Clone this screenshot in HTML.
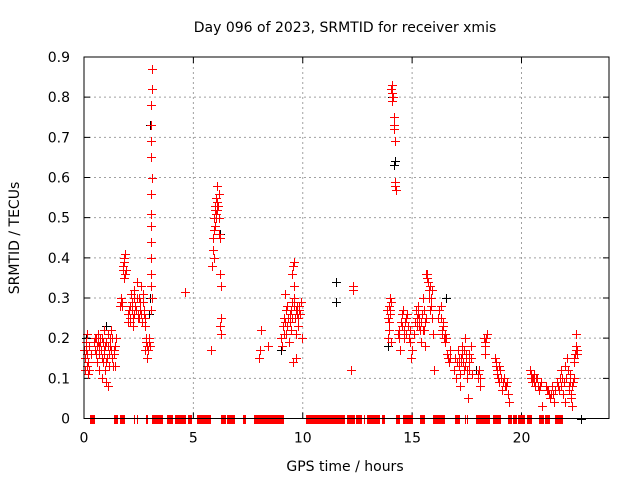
<!DOCTYPE html>
<html><head><meta charset="utf-8">
<style>
html,body{margin:0;padding:0;background:#fff;}
svg{display:block;font-family:"DejaVu Sans","Liberation Sans",sans-serif;}
</style></head>
<body>
<svg id="chart" width="640" height="480" viewBox="0 0 640 480">
<rect width="640" height="480" fill="#fff"/>
<text x="345" y="32" font-size="14" text-anchor="middle" fill="#000">Day 096 of 2023, SRMTID for receiver xmis</text>
<text x="345" y="471" font-size="14" text-anchor="middle" fill="#000">GPS time / hours</text>
<text x="19" y="238" font-size="14" text-anchor="middle" fill="#000" transform="rotate(-90 19 238)">SRMTID / TECUs</text>
<g id="grid"></g>
<g id="ticks"></g>
<g id="black-series"></g>
<g id="red-series"></g>
<rect x="84" y="57" width="525" height="361.5" fill="none" stroke="#000" stroke-width="1"/>
</svg>
<script>
const xTicks = [0, 5, 10, 15, 20];
const yTicks = [0, 0.1, 0.2, 0.3, 0.4, 0.5, 0.6, 0.7, 0.8, 0.9];
const yTickLabels = ["0","0.1","0.2","0.3","0.4","0.5","0.6","0.7","0.8","0.9"];
const redPoints = [
[0.05,0.12],[0.05,0.15],[0.08,0.19],[0.1,0.17],[0.12,0.13],[0.15,0.21],[0.18,0.11],[0.2,0.14],[0.25,0.12],[0.3,0.16],
[0.45,0.19],[0.5,0.17],[0.55,0.2],[0.6,0.14],[0.6,0.18],[0.65,0.21],[0.7,0.12],[0.7,0.16],[0.75,0.19],[0.8,0.1],[0.8,0.2],[0.85,0.14],[0.9,0.17],[0.9,0.22],[0.95,0.12],[1.0,0.09],[1.0,0.19],[1.05,0.15],[1.1,0.08],[1.1,0.21],[1.15,0.13],[1.2,0.18],[1.25,0.22],[1.3,0.2],[1.35,0.17],[1.4,0.13],[1.45,0.2],
[1.65,0.28],[1.7,0.3],[1.75,0.29],[1.8,0.38],[1.82,0.4],[1.85,0.35],[1.88,0.41],[1.9,0.37],
[2.0,0.24],[2.05,0.27],[2.1,0.25],[2.15,0.31],[2.2,0.29],[2.25,0.23],[2.3,0.32],[2.3,0.26],[2.35,0.28],[2.4,0.34],[2.45,0.25],[2.5,0.3],[2.55,0.27],[2.6,0.33],[2.65,0.24],[2.7,0.29],[2.75,0.26],[2.8,0.23],[2.8,0.17],[2.85,0.19],[2.9,0.15],[2.95,0.2],[3.0,0.18],
[3.1,0.87],[3.1,0.82],[3.08,0.78],[3.05,0.73],[3.08,0.69],[3.05,0.65],[3.1,0.6],[3.05,0.56],[3.08,0.51],[3.05,0.48],[3.08,0.44],[3.05,0.4],[3.08,0.36],[3.05,0.33],[3.1,0.3],[3.05,0.27],
[4.6,0.315],
[5.8,0.17],[5.85,0.38],[5.9,0.42],[5.9,0.45],[5.95,0.5],[6.0,0.53],[6.0,0.48],[6.05,0.55],[6.1,0.52],[6.1,0.58],[6.15,0.56],[6.15,0.46],[6.2,0.45],[6.2,0.36],[6.25,0.33],[6.25,0.25],[6.2,0.23],[6.25,0.21],[5.95,0.4],[6.05,0.51],
[8.0,0.15],[8.05,0.17],[8.1,0.22],[8.4,0.18],
[9.0,0.2],[9.05,0.18],[9.1,0.23],[9.15,0.25],[9.2,0.31],[9.25,0.21],[9.3,0.28],[9.35,0.19],[9.4,0.26],[9.45,0.22],[9.5,0.29],[9.5,0.36],[9.55,0.38],[9.6,0.39],[9.6,0.33],[9.65,0.25],[9.7,0.21],[9.7,0.15],[9.75,0.28],[9.8,0.23],[9.85,0.27],[9.9,0.29],[9.95,0.2],[9.55,0.14],
[12.2,0.12],[12.3,0.32],[12.3,0.33],
[13.9,0.2],[13.9,0.25],[13.95,0.28],[14.0,0.3],[14.05,0.82],[14.1,0.83],[14.1,0.79],[14.15,0.75],[14.15,0.72],[14.2,0.69],[14.2,0.58],[14.25,0.57],[13.95,0.22],[14.0,0.26],[14.05,0.19],
[14.35,0.21],[14.4,0.2],[14.45,0.17],[14.5,0.24],[14.6,0.27],[14.65,0.22],[14.7,0.25],[14.8,0.23],[14.9,0.19],[14.95,0.15],[15.0,0.17],
[15.1,0.21],[15.2,0.25],[15.25,0.28],[15.3,0.23],[15.4,0.19],[15.45,0.26],[15.5,0.3],[15.55,0.22],[15.6,0.18],[15.65,0.36],[15.7,0.36],[15.75,0.32],[15.8,0.27],[15.85,0.3],[15.9,0.25],[15.95,0.21],[16.0,0.12],
[16.2,0.25],[16.3,0.28],[16.35,0.22],[16.4,0.24],[16.45,0.2],[16.5,0.19],[16.6,0.16],[16.7,0.14],[16.75,0.15],
[16.9,0.12],[17.0,0.1],[17.1,0.17],[17.15,0.13],[17.2,0.08],[17.25,0.15],[17.3,0.18],[17.35,0.12],[17.4,0.2],[17.45,0.16],[17.5,0.1],[17.55,0.05],[17.6,0.14],[17.7,0.18],[17.75,0.11],
[18.0,0.1],[18.05,0.12],[18.1,0.08],[18.3,0.2],[18.35,0.18],[18.4,0.21],[18.35,0.16],
[18.8,0.15],[18.85,0.13],[18.9,0.11],[18.95,0.09],[19.0,0.12],[19.1,0.07],[19.2,0.1],[19.3,0.08],[19.4,0.06],[19.45,0.04],
[20.4,0.12],[20.45,0.1],[20.5,0.09],[20.55,0.11],[20.6,0.08],[20.7,0.1],[20.8,0.07],[20.9,0.09],[20.95,0.03],
[21.1,0.08],[21.2,0.07],[21.3,0.05],[21.35,0.06],[21.4,0.08],[21.5,0.04],[21.6,0.09],[21.7,0.07],[21.8,0.12],[21.85,0.1],[21.9,0.06],[22.0,0.13],[22.0,0.04],[22.1,0.15],[22.15,0.08],[22.2,0.11],[22.25,0.05],[22.3,0.03],[22.35,0.09],[22.4,0.14],[22.45,0.16],[22.5,0.18],[22.5,0.21],[22.55,0.17]
];
const redPointsDense = [
[0.02,0.17],[0.1,0.19],[0.15,0.16],[0.22,0.18],[0.5,0.2],[0.55,0.16],[0.62,0.19],[0.68,0.18],[0.72,0.2],[0.78,0.17],[0.82,0.15],[0.88,0.19],[0.92,0.16],[0.97,0.18],[1.02,0.14],[1.08,0.18],[1.12,0.16],[1.18,0.2],[1.22,0.17],[1.28,0.15],[1.32,0.13],[1.38,0.16],[1.42,0.18],
[1.68,0.29],[1.72,0.28],[1.78,0.37],[1.84,0.39],[1.86,0.36],
[2.02,0.26],[2.08,0.28],[2.12,0.24],[2.18,0.27],[2.22,0.25],[2.28,0.3],[2.32,0.28],[2.38,0.27],[2.42,0.3],[2.48,0.26],[2.52,0.25],[2.58,0.29],[2.62,0.26],[2.68,0.31],[2.72,0.27],[2.78,0.25],[2.82,0.2],[2.88,0.18],[2.92,0.17],[2.98,0.19],
[5.92,0.47],[5.98,0.52],[6.02,0.5],[6.08,0.54],[6.12,0.53],[6.18,0.5],
[9.12,0.21],[9.18,0.24],[9.22,0.27],[9.28,0.23],[9.32,0.25],[9.42,0.24],[9.48,0.27],[9.52,0.25],[9.58,0.3],[9.62,0.28],[9.68,0.27],[9.72,0.26],[9.78,0.25],[9.82,0.28],[9.88,0.26],
[13.85,0.27],[13.92,0.24],[13.98,0.27],[14.02,0.29],[14.08,0.81],[14.12,0.8],[14.18,0.73],[14.22,0.59],
[14.38,0.22],[14.42,0.2],[14.52,0.26],[14.55,0.23],[14.62,0.2],[14.68,0.24],[14.72,0.21],[14.78,0.26],[14.85,0.2],[14.92,0.22],
[15.12,0.24],[15.18,0.27],[15.22,0.23],[15.28,0.26],[15.32,0.25],[15.38,0.22],[15.42,0.24],[15.48,0.22],[15.52,0.27],[15.58,0.24],[15.62,0.25],[15.68,0.35],[15.72,0.34],[15.78,0.3],[15.82,0.33],[15.88,0.28],[15.92,0.32],
[16.25,0.27],[16.32,0.25],[16.38,0.21],[16.42,0.23],[16.48,0.21],[16.55,0.2],[16.65,0.15],[16.72,0.17],
[16.95,0.15],[17.05,0.14],[17.12,0.15],[17.18,0.11],[17.22,0.14],[17.28,0.16],[17.32,0.14],[17.38,0.17],[17.42,0.13],[17.48,0.15],[17.52,0.12],[17.58,0.16],[17.62,0.12],[17.68,0.15],
[18.02,0.11],[18.08,0.1],[18.32,0.19],[18.38,0.2],
[18.82,0.14],[18.88,0.12],[18.92,0.1],[18.98,0.13],[19.05,0.1],[19.15,0.09],[19.25,0.08],[19.35,0.09],
[20.42,0.11],[20.48,0.1],[20.52,0.1],[20.58,0.09],[20.65,0.1],[20.75,0.08],[20.85,0.08],
[21.15,0.07],[21.25,0.06],[21.45,0.06],[21.55,0.07],[21.65,0.08],[21.75,0.1],[21.82,0.08],[21.95,0.09],[22.05,0.1],[22.12,0.12],[22.18,0.07],[22.22,0.09],[22.28,0.06],[22.32,0.08],[22.38,0.1],[22.42,0.15],[22.48,0.17],[22.52,0.16]
];
// extents (in hours, incl. marker size) of runs of zero-valued samples
const redZeroRuns = [
[0.27,0.5],[1.37,1.55],[1.65,1.87],[2.29,2.29],[2.42,2.42],[2.83,2.83],[2.88,2.88],
[3.1,3.6],[3.8,4.07],[4.16,4.66],[4.75,4.94],[5.17,5.8],[6.26,6.5],[6.54,6.9],[7.27,7.4],
[7.77,9.14],[10.15,11.93],[12.0,12.4],[12.43,12.7],[12.8,12.8],[12.94,13.53],[13.6,13.76],
[14.26,14.45],[14.6,15.04],[15.35,15.6],[15.95,16.5],[16.96,17.2],[17.42,17.42],[17.5,17.5],[17.92,18.56],
[18.7,19.06],[19.38,19.57],[19.6,19.8],[19.84,20.16],[20.25,20.48],[20.8,21.03],[21.07,21.3],[21.53,21.9]
];
const blackPoints = [[3.0,0.73],[3.0,0.3],[2.95,0.26],[11.5,0.34],[11.5,0.29],[14.1,0.8],[14.2,0.64],[14.15,0.63],[6.2,0.46],[13.9,0.18],[16.55,0.3],[17.9,0.12],[0.1,0.2],[1.0,0.23],[9.0,0.17],[22.7,0]];

const X0 = 84, X1 = 609, Y0 = 418.5, Y1 = 57;
const xMax = 24, yMax = 0.9;
function xs(t){ return X0 + (X1 - X0) * t / xMax; }
function ys(v){ return Y0 - (Y0 - Y1) * v / yMax; }
const NS = "http://www.w3.org/2000/svg";
const grid = document.getElementById("grid");
const ticks = document.getElementById("ticks");
const svg = document.getElementById("chart");

xTicks.forEach(function(t){
  const x = xs(t);
  if (t > 0) {
    const g = document.createElementNS(NS, "line");
    g.setAttribute("x1", x); g.setAttribute("x2", x); g.setAttribute("y1", Y1); g.setAttribute("y2", Y0);
    g.setAttribute("stroke", "#a0a0a0"); g.setAttribute("stroke-dasharray", "2,3");
    
    
    grid.appendChild(g);
  }
  const tk = document.createElementNS(NS, "path");
  tk.setAttribute("d", "M" + x + " " + Y0 + "v-6M" + x + " " + Y1 + "v6");
  tk.setAttribute("stroke", "#000");
  
  
  ticks.appendChild(tk);
  const lb = document.createElementNS(NS, "text");
  lb.setAttribute("x", x); lb.setAttribute("y", Y0 + 24);
  lb.setAttribute("text-anchor", "middle"); lb.setAttribute("font-size", "14");
  lb.textContent = String(t);
  
  
  svg.appendChild(lb);
});
yTicks.forEach(function(v, i){
  const y = ys(v);
  if (v > 0 && v < yMax) {
    const g = document.createElementNS(NS, "line");
    g.setAttribute("x1", X0); g.setAttribute("x2", X1); g.setAttribute("y1", y); g.setAttribute("y2", y);
    g.setAttribute("stroke", "#a0a0a0"); g.setAttribute("stroke-dasharray", "2,3");
    
    
    grid.appendChild(g);
  }
  const tk = document.createElementNS(NS, "path");
  tk.setAttribute("d", "M" + X0 + " " + y + "h6M" + X1 + " " + y + "h-6");
  tk.setAttribute("stroke", "#000");
  
  
  ticks.appendChild(tk);
  const lb = document.createElementNS(NS, "text");
  lb.setAttribute("x", X0 - 14); lb.setAttribute("y", y + 5);
  lb.setAttribute("text-anchor", "end"); lb.setAttribute("font-size", "14");
  lb.textContent = yTickLabels[i];
  
  
  svg.appendChild(lb);
});

function plus(parent, t, v, color, name){
  const x = Math.round(xs(t)) + 0.5, y = Math.round(ys(v)) + 0.5;
  const p = document.createElementNS(NS, "path");
  p.setAttribute("d", "M" + (x - 4.5) + " " + y + "h9M" + x + " " + (y - 4.5) + "v9");
  p.setAttribute("stroke", color); p.setAttribute("stroke-width", "1");
  p.setAttribute("shape-rendering", "crispEdges");
  
  
  parent.appendChild(p);
}
const bg = document.getElementById("black-series");
blackPoints.forEach(function(d){ plus(bg, d[0], d[1], "#000", "black-point"); });
const rg = document.getElementById("red-series");
redPoints.forEach(function(d){ plus(rg, d[0], d[1], "#f00", "red-point"); });
redPointsDense.forEach(function(d){ plus(rg, d[0], d[1], "#f00", "red-point"); });
redZeroRuns.forEach(function(r){
  const xa = Math.round(xs(r[0])), xb = Math.round(xs(r[1]));
  const y = Math.round(ys(0));
  if (xb - xa < 3) {
    const p = document.createElementNS(NS, "path");
    p.setAttribute("d", "M" + (xa + 0.5) + " " + (y - 4) + "v9");
    p.setAttribute("stroke", "#f00");
    p.setAttribute("shape-rendering", "crispEdges");
    
    
    rg.appendChild(p);
    return;
  }
  const rc = document.createElementNS(NS, "rect");
  rc.setAttribute("x", xa); rc.setAttribute("y", y - 4);
  rc.setAttribute("width", xb - xa); rc.setAttribute("height", 9);
  rc.setAttribute("fill", "#f00");
  
  
  rg.appendChild(rc);
});
</script>
</body></html>
